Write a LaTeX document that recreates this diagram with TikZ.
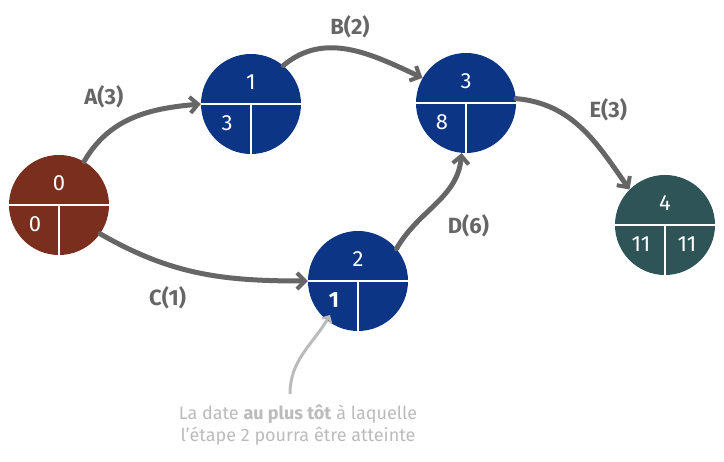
\documentclass[tikz,border=0pt]{standalone}
\usepackage{fontspec}
\setmainfont{Fira Sans}
\usetikzlibrary{arrows.meta}

\definecolor{stbrown}{HTML}{7A2E1E} % start
\definecolor{stblue}{HTML}{0C3585}  % steps
\definecolor{stteal}{HTML}{2F5457}  % end
\definecolor{arrgray}{HTML}{666666}
\definecolor{notegray}{HTML}{BBBBBB}

\tikzset{
  step node/.style={circle,minimum size=100pt,inner sep=0pt},
  task/.style={-{Straight Barb[length=8pt,width=16pt,line width=4pt]},
    color=arrgray,line width=5pt,line cap=round},
  tasklbl/.style={text=arrgray,font=\bfseries\fontsize{22}{22}\selectfont},
  note/.style={-{Straight Barb[length=5pt,width=10pt,line width=2.5pt]},
    color=notegray,line width=3pt},
}

% circle with number, early date and late date
\newcommand{\etape}[5]{%
  \node (#1) at #2 [step node,fill=#3] {};
  \draw[white,line width=1.5pt] (#1.west) -- (#1.east);
  \draw[white,line width=1.5pt] (#1.center) -- (#1.south);
  \node (#1n) at ([yshift=22pt]#1.center) [text=white] {\fontsize{22}{22}\selectfont #4};
  \node (#1e) at ([xshift=-24pt,yshift=-19pt]#1.center) [text=white] {\fontsize{22}{22}\selectfont #5};
}

\begin{document}
\begin{tikzpicture}[x=1pt,y=1pt]
  \useasboundingbox (0,0) rectangle (724,462);

  \etape{s0}{(59,257)}{stbrown}{0}{0}
  \etape{s1}{(251,358)}{stblue}{1}{3}
  \etape{s3}{(466,359)}{stblue}{3}{8}
  \etape{s2}{(358,181)}{stblue}{2}{\textbf{1}}
  \etape{s4}{(665,237)}{stteal}{4}{11}
  \node (s4l) at ([xshift=22pt,yshift=-19pt]s4.center) [text=white] {\fontsize{22}{22}\selectfont 11};

  \coordinate (np) at (290,68);

  \draw[task] (s0.60) to[out=60,in=185] node[tasklbl,above left=4pt] {A(3)} (s1.west);
  \draw[task] (s1.50) to[out=40,in=155] node[tasklbl,above=6pt] {B(2)} (s3.150);
  \draw[task] (s3.5) to[out=-5,in=125] node[tasklbl,above right=2pt] {E(3)} (s4.135);
  \draw[task] (s0.-35) to[out=-30,in=180] node[tasklbl,below left=8pt] {C(1)} (s2.west);
  \draw[task] (s2.40) to[out=60,in=-95] node[tasklbl,below right=6pt] {D(6)} (s3.-95);

  \draw[note] (np) to[out=90,in=-120] ([xshift=-28pt,yshift=-34pt]s2.center);
  \node (txt) at (298,37) [text=notegray,align=center,font=\fontsize{18}{22}\selectfont]
    {La date \textbf{au plus tôt} à laquelle\\l’étape 2 pourra être atteinte};
\end{tikzpicture}
\end{document}
